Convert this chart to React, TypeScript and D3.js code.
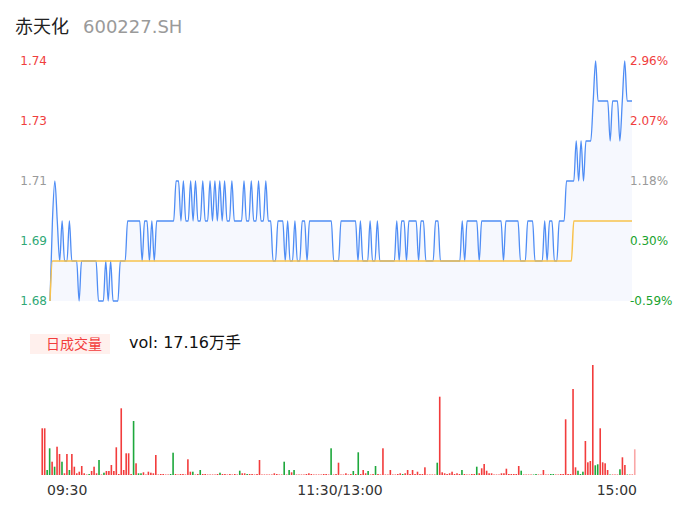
import React from 'react';
import * as d3 from 'd3';

// ---------- data ----------
const stockName = '赤天化';
const stockCode = '600227.SH';
const volumeLabel = '日成交量';
const volumeText = 'vol: 17.16万手';

const prices = [
  1.68, 1.70, 1.71, 1.70, 1.69, 1.70, 1.69, 1.69, 1.70, 1.69,
  1.69, 1.69, 1.68, 1.69, 1.69, 1.69, 1.69, 1.69, 1.69, 1.69,
  1.68, 1.68, 1.68, 1.69, 1.68, 1.69, 1.68, 1.68, 1.68, 1.69,
  1.69, 1.69, 1.70, 1.70, 1.70, 1.70, 1.70, 1.70, 1.69, 1.70,
  1.70, 1.69, 1.70, 1.69, 1.70, 1.70, 1.70, 1.70, 1.70, 1.70,
  1.70, 1.70, 1.71, 1.71, 1.70, 1.71, 1.70, 1.70, 1.71, 1.70,
  1.71, 1.70, 1.70, 1.71, 1.70, 1.70, 1.71, 1.70, 1.71, 1.70,
  1.71, 1.70, 1.71, 1.70, 1.70, 1.71, 1.70, 1.70, 1.70, 1.70,
  1.71, 1.70, 1.70, 1.71, 1.70, 1.70, 1.71, 1.70, 1.70, 1.71,
  1.70, 1.70, 1.69, 1.69, 1.70, 1.70, 1.70, 1.69, 1.70, 1.69,
  1.69, 1.70, 1.69, 1.69, 1.70, 1.70, 1.69, 1.70, 1.70, 1.70,
  1.70, 1.70, 1.70, 1.70, 1.70, 1.70, 1.70, 1.69, 1.69, 1.69,
  1.70, 1.70, 1.70, 1.70, 1.70, 1.70, 1.70, 1.69, 1.70, 1.69,
  1.69, 1.69, 1.70, 1.69, 1.69, 1.70, 1.69, 1.69, 1.69, 1.69,
  1.69, 1.69, 1.69, 1.70, 1.69, 1.70, 1.70, 1.69, 1.70, 1.70,
  1.70, 1.70, 1.69, 1.70, 1.70, 1.69, 1.69, 1.69, 1.69, 1.70,
  1.70, 1.69, 1.69, 1.69, 1.69, 1.69, 1.69, 1.69, 1.69, 1.69,
  1.70, 1.69, 1.70, 1.70, 1.70, 1.70, 1.70, 1.69, 1.70, 1.70,
  1.70, 1.70, 1.70, 1.70, 1.70, 1.70, 1.70, 1.69, 1.70, 1.70,
  1.70, 1.70, 1.70, 1.70, 1.69, 1.69, 1.69, 1.70, 1.70, 1.70,
  1.69, 1.69, 1.69, 1.69, 1.70, 1.69, 1.70, 1.70, 1.69, 1.69,
  1.70, 1.70, 1.70, 1.71, 1.71, 1.71, 1.71, 1.72, 1.71, 1.72,
  1.71, 1.72, 1.72, 1.72, 1.73, 1.74, 1.73, 1.73, 1.73, 1.73,
  1.73, 1.72, 1.73, 1.73, 1.73, 1.72, 1.73, 1.74, 1.73, 1.73,
  1.73,
];

const avgPrices = [
  1.68, 1.69, 1.69, 1.69, 1.69, 1.69, 1.69, 1.69, 1.69, 1.69,
  1.69, 1.69, 1.69, 1.69, 1.69, 1.69, 1.69, 1.69, 1.69, 1.69,
  1.69, 1.69, 1.69, 1.69, 1.69, 1.69, 1.69, 1.69, 1.69, 1.69,
  1.69, 1.69, 1.69, 1.69, 1.69, 1.69, 1.69, 1.69, 1.69, 1.69,
  1.69, 1.69, 1.69, 1.69, 1.69, 1.69, 1.69, 1.69, 1.69, 1.69,
  1.69, 1.69, 1.69, 1.69, 1.69, 1.69, 1.69, 1.69, 1.69, 1.69,
  1.69, 1.69, 1.69, 1.69, 1.69, 1.69, 1.69, 1.69, 1.69, 1.69,
  1.69, 1.69, 1.69, 1.69, 1.69, 1.69, 1.69, 1.69, 1.69, 1.69,
  1.69, 1.69, 1.69, 1.69, 1.69, 1.69, 1.69, 1.69, 1.69, 1.69,
  1.69, 1.69, 1.69, 1.69, 1.69, 1.69, 1.69, 1.69, 1.69, 1.69,
  1.69, 1.69, 1.69, 1.69, 1.69, 1.69, 1.69, 1.69, 1.69, 1.69,
  1.69, 1.69, 1.69, 1.69, 1.69, 1.69, 1.69, 1.69, 1.69, 1.69,
  1.69, 1.69, 1.69, 1.69, 1.69, 1.69, 1.69, 1.69, 1.69, 1.69,
  1.69, 1.69, 1.69, 1.69, 1.69, 1.69, 1.69, 1.69, 1.69, 1.69,
  1.69, 1.69, 1.69, 1.69, 1.69, 1.69, 1.69, 1.69, 1.69, 1.69,
  1.69, 1.69, 1.69, 1.69, 1.69, 1.69, 1.69, 1.69, 1.69, 1.69,
  1.69, 1.69, 1.69, 1.69, 1.69, 1.69, 1.69, 1.69, 1.69, 1.69,
  1.69, 1.69, 1.69, 1.69, 1.69, 1.69, 1.69, 1.69, 1.69, 1.69,
  1.69, 1.69, 1.69, 1.69, 1.69, 1.69, 1.69, 1.69, 1.69, 1.69,
  1.69, 1.69, 1.69, 1.69, 1.69, 1.69, 1.69, 1.69, 1.69, 1.69,
  1.69, 1.69, 1.69, 1.69, 1.69, 1.69, 1.69, 1.69, 1.69, 1.69,
  1.69, 1.69, 1.69, 1.69, 1.69, 1.69, 1.70, 1.70, 1.70, 1.70,
  1.70, 1.70, 1.70, 1.70, 1.70, 1.70, 1.70, 1.70, 1.70, 1.70,
  1.70, 1.70, 1.70, 1.70, 1.70, 1.70, 1.70, 1.70, 1.70, 1.70,
  1.70,
];

// volume per minute (hands)
const volumes = [
  4670, 4670, 500, 2670, 1330, 830, 2830, 2100, 1330, 170,
  2100, 500, 2100, 830, 170, 330, 900, 170, 50, 100,
  400, 830, 170, 1500, 50, 230, 400, 400, 1000, 400,
  2770, 100, 6670, 500, 2170, 2170, 100, 5400, 1170, 170,
  170, 270, 50, 330, 230, 170, 2000, 50, 100, 100,
  50, 50, 100, 2230, 100, 50, 100, 100, 50, 1570,
  330, 330, 50, 100, 500, 100, 100, 50, 50, 50,
  50, 100, 230, 100, 100, 50, 100, 50, 100, 50,
  430, 170, 170, 100, 100, 100, 50, 100, 1500, 50,
  50, 50, 50, 50, 170, 100, 50, 50, 1330, 50,
  500, 270, 500, 50, 50, 50, 50, 100, 170, 100,
  50, 50, 50, 50, 100, 100, 50, 2670, 50, 100,
  1230, 50, 50, 170, 50, 100, 400, 100, 2270, 100,
  500, 170, 400, 50, 100, 900, 100, 50, 2670, 50,
  50, 500, 50, 50, 100, 170, 100, 170, 500, 100,
  500, 100, 330, 100, 100, 770, 50, 50, 50, 50,
  1230, 7830, 270, 170, 100, 170, 330, 100, 170, 100,
  500, 100, 50, 50, 100, 100, 830, 170, 670, 1100,
  430, 170, 170, 50, 50, 50, 170, 170, 630, 100,
  100, 100, 100, 900, 430, 50, 50, 50, 50, 50,
  100, 50, 50, 500, 50, 50, 100, 100, 50, 50,
  100, 100, 5570, 100, 100, 8600, 770, 430, 100, 330,
  3400, 1270, 1400, 11000, 970, 1070, 4670, 1270, 1170, 500,
  50, 50, 50, 50, 570, 1770, 1000, 50, 50, 50,
  2570,
];

// 1 = up (red), -1 = down (green)
const volumeDirs = [
  1, 1, -1, -1, 1, -1, 1, 1, -1, 1,
  1, -1, 1, 1, 1, 1, 1, 1, 1, -1,
  1, 1, 1, -1, 1, -1, 1, 1, 1, 1,
  1, 1, 1, 1, 1, 1, 1, -1, 1, -1,
  -1, 1, 1, 1, 1, 1, 1, 1, 1, 1,
  1, 1, -1, -1, 1, 1, 1, 1, 1, 1,
  1, -1, 1, 1, -1, 1, 1, 1, 1, 1,
  1, 1, -1, 1, 1, 1, 1, 1, 1, 1,
  -1, 1, 1, -1, 1, 1, 1, 1, 1, 1,
  1, 1, 1, 1, 1, 1, 1, 1, -1, 1,
  -1, 1, -1, 1, 1, 1, 1, 1, 1, 1,
  1, 1, 1, 1, 1, 1, 1, -1, 1, 1,
  1, 1, 1, 1, 1, 1, -1, 1, -1, 1,
  1, 1, -1, 1, 1, -1, 1, 1, 1, 1,
  1, 1, 1, 1, 1, 1, -1, 1, 1, 1,
  1, 1, 1, 1, 1, 1, 1, 1, 1, 1,
  -1, 1, 1, 1, 1, 1, 1, 1, 1, 1,
  -1, 1, 1, 1, 1, 1, -1, 1, 1, 1,
  1, 1, 1, 1, 1, 1, 1, 1, 1, 1,
  1, 1, 1, 1, -1, 1, 1, 1, 1, -1,
  -1, 1, 1, 1, 1, 1, -1, -1, 1, 1,
  1, 1, 1, 1, 1, 1, 1, -1, -1, -1,
  1, 1, 1, 1, -1, -1, 1, 1, 1, 1,
  -1, 1, 1, 1, -1, 1, 1, -1, 1, 1,
  1,
];

const leftTickLabels = ['1.74', '1.73', '1.71', '1.69', '1.68'];
const rightTickLabels = ['2.96%', '2.07%', '1.18%', '0.30%', '-0.59%'];
const tickTones = ['up', 'up', 'flat', 'down', 'down'];
const timeLabels = ['09:30', '11:30/13:00', '15:00'];

// ---------- styles ----------
const FONT = '"DejaVu Sans", "Noto Sans CJK SC", sans-serif';
const RED = '#f23c3c';
const GREEN = '#1ea83c';
const LINE_BLUE = '#4f8df5';
const AVG_ORANGE = '#f8c24c';
const toneLeft: Record<string, string> = { up: '#f03e3e', flat: '#9a9a9a', down: '#2fa876' };
const toneRight: Record<string, string> = { up: '#f03e3e', flat: '#9a9a9a', down: '#19a32e' };

export default function App() {
  const W = 686;
  const H = 524;

  const plotLeft = 50;
  const plotRight = 632;
  const priceTop = 61;
  const priceBottom = 301;

  const n = prices.length;
  const x = d3.scaleLinear().domain([0, n - 1]).range([plotLeft, plotRight]);
  const [pMin, pMax] = d3.extent(prices) as [number, number];
  const y = d3.scaleLinear().domain([pMin, pMax]).range([priceBottom, priceTop]);

  const line = d3
    .line<number>()
    .x((_, i) => x(i))
    .y((d) => y(d))
    .curve(d3.curveMonotoneX);
  const area = d3
    .area<number>()
    .x((_, i) => x(i))
    .y0(priceBottom)
    .y1((d) => y(d))
    .curve(d3.curveMonotoneX);

  const tickVals = leftTickLabels.map((_, k) => pMax - (k * (pMax - pMin)) / (leftTickLabels.length - 1));

  // volume
  const volTop = 365;
  const volBottom = 475;
  const xb = d3
    .scaleBand<number>()
    .domain(d3.range(volumes.length))
    .range([41, 636])
    .paddingInner(0.35)
    .paddingOuter(0.175);
  const vMax = d3.max(volumes) as number;
  const yv = d3.scaleLinear().domain([0, vMax]).range([volBottom, volTop]);

  return (
    <svg
      width={W}
      height={H}
      style={{ position: 'absolute', left: 0, top: 0, background: '#fff' }}
      fontFamily={FONT}
    >
      {/* title */}
      <text x={15} y={33} fontSize={18} fill="#222">
        {stockName}
      </text>
      <text x={83} y={33} fontSize={18} fill="#9a9a9a">
        {stockCode}
      </text>

      {/* price area + lines */}
      <path d={area(prices) || ''} fill="#f6f8fe" />
      <path d={line(prices) || ''} fill="none" stroke={LINE_BLUE} strokeWidth={1.3} />
      <path d={line(avgPrices) || ''} fill="none" stroke={AVG_ORANGE} strokeWidth={1.5} />

      {/* axis labels */}
      {tickVals.map((v, k) => (
        <text
          key={'l' + k}
          x={47}
          y={y(v)}
          dy="0.35em"
          fontSize={12}
          textAnchor="end"
          fill={toneLeft[tickTones[k]]}
        >
          {leftTickLabels[k]}
        </text>
      ))}
      {tickVals.map((v, k) => (
        <text
          key={'r' + k}
          x={630}
          y={y(v)}
          dy="0.35em"
          fontSize={12}
          textAnchor="start"
          fill={toneRight[tickTones[k]]}
        >
          {rightTickLabels[k]}
        </text>
      ))}

      {/* volume header */}
      <rect x={30} y={334} width={80} height={20} fill="#fff0ed" />
      <text x={74} y={349} fontSize={14} textAnchor="middle" fill="#f23c3c">
        {volumeLabel}
      </text>
      <text x={129} y={348} fontSize={16} fill="#111">
        {volumeText}
      </text>

      {/* volume bars */}
      {volumes.map((v, i) => (
        <rect
          key={'v' + i}
          x={xb(i) as number}
          width={xb.bandwidth()}
          y={yv(v)}
          height={volBottom - yv(v)}
          fill={volumeDirs[i] > 0 ? RED : GREEN}
          opacity={i === volumes.length - 1 ? 0.45 : 1}
        />
      ))}

      {/* time labels */}
      <text x={47} y={495} fontSize={14} fill="#333" textAnchor="start">
        {timeLabels[0]}
      </text>
      <text x={(plotLeft + plotRight) / 2 - 1} y={495} fontSize={14} fill="#333" textAnchor="middle">
        {timeLabels[1]}
      </text>
      <text x={637} y={495} fontSize={14} fill="#333" textAnchor="end">
        {timeLabels[2]}
      </text>
    </svg>
  );
}
